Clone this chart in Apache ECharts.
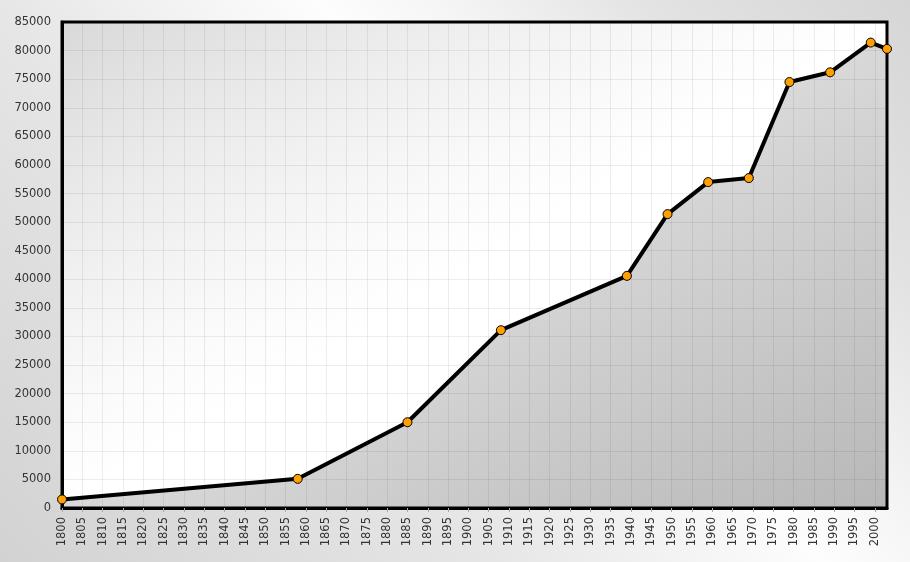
<!DOCTYPE html>
<html>
<head>
<meta charset="utf-8">
<script src="https://cdn.jsdelivr.net/npm/echarts@6/dist/echarts.min.js"></script>
<style>
html,body{margin:0;padding:0;}
body{width:910px;height:562px;overflow:hidden;
background: linear-gradient(48deg, #d2d2d2 0%, #e6e6e6 35%, #fdfdfd 58%, #f6f6f6 66%, #e2e2e2 82%, #d6d6d6 100%);}
#c{width:910px;height:562px;}
</style>
</head>
<body>
<div id="c"></div>
<script>
const years = [1800, 1858, 1885, 1908, 1939, 1949, 1959, 1969, 1979, 1989, 1999, 2003];
const population = [1500, 5100, 15000, 31100, 40600, 51400, 57000, 57700, 74500, 76200, 81400, 80300];
const xMin = 1800, xMax = 2003, xStep = 5;
const yMin = 0, yMax = 85000, yStep = 5000;

const chart = echarts.init(document.getElementById('c'), null, {renderer: 'canvas'});
const font = 'DejaVu Sans';
// gradient across the plot area, isolines parallel to its anti-diagonal
const gx0 = 262, gy0 = -96, gx1 = 687, gy1 = 626;
chart.setOption({
  animation: false,
  backgroundColor: 'transparent',
  grid: {
    left: 62, right: 23, top: 22, bottom: 54,
    show: true,
    borderColor: '#000', borderWidth: 3,
    backgroundColor: new echarts.graphic.LinearGradient(gx0, gy0, gx1, gy1, [
      {offset: 0, color: '#d9d9d9'},
      {offset: 0.2, color: '#ebebeb'},
      {offset: 0.4, color: '#fafafa'},
      {offset: 0.5, color: '#ffffff'},
      {offset: 1, color: '#ffffff'}
    ], true)
  },
  xAxis: {
    type: 'value', min: xMin, max: xMax, interval: xStep,
    axisLine: {show: true, lineStyle: {color: '#000', width: 3}},
    axisTick: {show: true, length: 4, lineStyle: {color: '#aaa'}},
    splitLine: {show: true, lineStyle: {color: 'rgba(0,0,0,0.07)', width: 1}},
    axisLabel: {rotate: 90, margin: 9, color: '#333', fontFamily: font, fontSize: 11.5,
      formatter: v => String(v), showMaxLabel: false}
  },
  yAxis: {
    type: 'value', min: yMin, max: yMax, interval: yStep,
    axisLine: {show: true, lineStyle: {color: '#000', width: 3}},
    axisTick: {show: false},
    splitLine: {show: true, lineStyle: {color: 'rgba(0,0,0,0.07)', width: 1}},
    axisLabel: {margin: 11, color: '#333', fontFamily: font, fontSize: 11.5,
      formatter: v => String(v)}
  },
  series: [{
    type: 'line',
    data: years.map((y, i) => [y, population[i]]),
    lineStyle: {color: '#000', width: 4},
    symbol: 'circle', symbolSize: 9,
    itemStyle: {color: '#ff9f00', borderColor: '#000', borderWidth: 1},
    areaStyle: {
      color: new echarts.graphic.LinearGradient(gx0, gy0, gx1, gy1, [
        {offset: 0, color: 'rgba(0,0,0,0.17)'},
        {offset: 0.5, color: 'rgba(0,0,0,0.21)'},
        {offset: 1, color: 'rgba(0,0,0,0.40)'}
      ], true),
      origin: 'start'
    },
    clip: false
  }]
});
</script>
</body>
</html>
